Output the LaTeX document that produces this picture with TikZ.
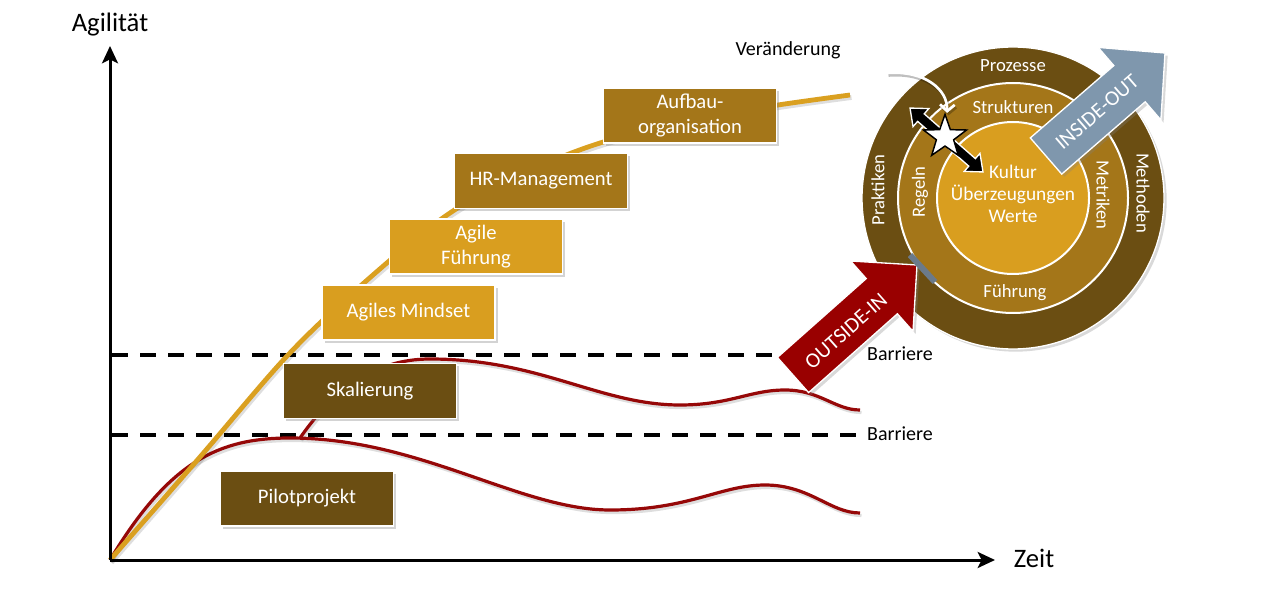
\documentclass[tikz,border=0pt]{standalone}
\usepackage{fontspec}
\setmainfont{Carlito}
\usetikzlibrary{arrows.meta,shadows,shapes.geometric}
\definecolor{dbrown}{HTML}{6B4E12}
\definecolor{mgold}{HTML}{A47619}
\definecolor{lgold}{HTML}{D99E1F}
\definecolor{corange}{HTML}{DAA020}
\definecolor{cred}{HTML}{960808}
\definecolor{ared}{HTML}{990000}
\definecolor{bgrey}{HTML}{7F97AD}
\definecolor{barc}{HTML}{6B7A8A}
\begin{document}
\begin{tikzpicture}[x=0.75pt,y=-0.75pt,
  box/.style={draw=white, line width=1.2pt, text=white, minimum width=129.75pt, minimum height=41.25pt, inner sep=2pt, align=center, font=\fontsize{15.5}{18.5}\selectfont, drop shadow={shadow xshift=2.2pt, shadow yshift=-2.2pt, opacity=0.35}},
  ring/.style={text=white, font=\fontsize{14}{16.5}\selectfont, align=center},
  lbl/.style={text=black, font=\fontsize{15}{18}\selectfont},
  big/.style={text=black, font=\fontsize{20}{24}\selectfont},
  axis/.style={line width=2.25pt, -{Stealth[length=13pt,width=12pt,inset=3pt]}},
  barrierline/.style={line width=3pt, dash pattern=on 12pt off 9pt},
  shline/.style={black, opacity=0.13},
  redcurve/.style={cred, line width=2.4pt},
  bigarrow/.style={draw=white, line width=1pt, drop shadow={shadow xshift=2pt, shadow yshift=-2pt, opacity=0.3}},
  arrowtext/.style={text=white, font=\fontsize{16}{19}\selectfont}
]
\useasboundingbox (0,0) rectangle (1280,598);

% coordinates
\coordinate (O) at (110,560);
\coordinate (Ytop) at (110,46);
\coordinate (Xend) at (995,560);
\coordinate (b1s) at (112,355);
\coordinate (b1e) at (780,355);
\coordinate (b2s) at (112,435);
\coordinate (b2e) at (858,435);

% barrier dashed lines with shadow
\begin{scope}[shift={(2,3)}]
  \draw[barrierline, black, opacity=0.2] (b1s) -- (b1e);
  \draw[barrierline, black, opacity=0.2] (b2s) -- (b2e);
\end{scope}
\draw[barrierline] (b1s) -- (b1e);
\draw[barrierline] (b2s) -- (b2e);

% red curves (shadow + line)
\begin{scope}[shift={(1.5,2.5)}]
  \draw[line width=2.4pt, shline] (110,560) .. controls (170,460) and (220,438) .. (290,438)
    .. controls (420,438) and (520,510) .. (610,510)
    .. controls (690,510) and (720,485) .. (765,485)
    .. controls (810,485) and (830,513) .. (860,513);
  \draw[line width=2.4pt, shline] (300,438) .. controls (330,395) and (370,359) .. (430,359)
    .. controls (540,359) and (600,405) .. (680,405)
    .. controls (730,405) and (750,390) .. (785,390)
    .. controls (820,390) and (835,410) .. (860,410);
\end{scope}
\draw[redcurve] (110,560) .. controls (170,460) and (220,438) .. (290,438)
    .. controls (420,438) and (520,510) .. (610,510)
    .. controls (690,510) and (720,485) .. (765,485)
    .. controls (810,485) and (830,513) .. (860,513);
\draw[redcurve] (300,438) .. controls (330,395) and (370,359) .. (430,359)
    .. controls (540,359) and (600,405) .. (680,405)
    .. controls (730,405) and (750,390) .. (785,390)
    .. controls (820,390) and (835,410) .. (860,410);

% orange curve
\begin{scope}[shift={(1.5,2.5)}]
\draw[line width=3.6pt, shline] plot[smooth, tension=0.55] coordinates {(110,560) (200,457) (288,355) (365,282) (447,215) (520,175) (600,143) (700,118) (778,105) (850,95)};
\end{scope}
\draw[corange, line width=3.6pt] plot[smooth, tension=0.55] coordinates {(110,560) (200,457) (288,355) (365,282) (447,215) (520,175) (600,143) (700,118) (778,105) (850,95)};

% axes
\draw[axis] (O) -- (Ytop);
\draw[axis] (O) -- (Xend);
\node[big] (agil) at (110,25) {Agilität};
\node[big] (zeit) at (1034,558) {Zeit};

% boxes
\node[box, fill=mgold] (aufbau) at (690,115.5) {Aufbau-\\organisation};
\node[box, fill=mgold] (hr) at (541,181) {HR-Management};
\node[box, fill=lgold] (fuehr) at (476,246.5) {Agile\\Führung};
\node[box, fill=lgold] (mind) at (408.5,312.5) {Agiles Mindset};
\node[box, fill=dbrown] (skal) at (370,391) {Skalierung};
\node[box, fill=dbrown] (pilot) at (307,498.5) {Pilotprojekt};

% barrier labels
\node[lbl] (bar1) at (900,354) {Barriere};
\node[lbl] (bar2) at (900,434) {Barriere};
\node[lbl] (ver) at (788,50) {Veränderung};

% circles
\fill[dbrown, draw=white, line width=1pt, drop shadow={shadow xshift=2pt, shadow yshift=-2pt, opacity=0.3}] (1013,198) circle[radius=151];
\fill[mgold, draw=white, line width=1.5pt] (1013,198) circle[radius=115];
\fill[lgold, draw=white, line width=1.5pt] (1013,198) circle[radius=76];

\node[ring] (proz) at (1013,66) {Prozesse};
\node[ring] (strk) at (1013,107) {Strukturen};
\node[ring, rotate=90] (prak) at (878,190) {Praktiken};
\node[ring, rotate=90] (regl) at (920,192) {Regeln};
\node[ring, rotate=-90] (metr) at (1103,195) {Metriken};
\node[ring, rotate=-90] (meth) at (1143,193) {Methoden};
\node[ring] (fhr) at (1015,293) {Führung};
\node[ring, font=\fontsize{14.5}{16.5}\selectfont] (kern) at (1013,194) {Kultur\\Überzeugungen\\Werte};

% OUTSIDE-IN arrow
\filldraw[ared, bigarrow] (777.4,357.4) -- (866.2,278.6) -- (850.6,261.0) -- (917,265) -- (913.0,331.4) -- (897.4,313.8) -- (808.6,392.6) -- cycle;
\node[arrowtext, rotate=41.6] (oin) at (846,331) {OUTSIDE-IN};

% barrier bar at middle ring
\draw[barc, line width=4.5pt] (910,255) -- (935,282);

% INSIDE-OUT arrow
\filldraw[bgrey, bigarrow] (1030.3,137.9) -- (1113.8,65.6) -- (1098.1,47.4) -- (1165,53) -- (1160.9,120) -- (1145.2,101.8) -- (1061.7,174.1) -- cycle;
\node[arrowtext, rotate=40.9] (iout) at (1097,112) {INSIDE-OUT};

% Veraenderung curved arrow
\begin{scope}[shift={(1.5,2.5)}]
\draw[black, opacity=0.25, line width=2pt, -{Straight Barb[length=5pt,width=11pt]}] (887,73) .. controls (925,70) and (948,90) .. (947,113);
\end{scope}
\coordinate (vs) at (887,73);
\coordinate (ve) at (947,113);
\draw[white, line width=2pt, -{Straight Barb[length=5pt,width=11pt]}] (vs) .. controls (925,70) and (948,90) .. (ve);

% double arrow
\begin{scope}[shift={(946.5,140)}, rotate=-41.2]
\filldraw[black, draw=white, line width=1pt] (-48.5,0) -- (-34,12) -- (-34,5) -- (34,5) -- (34,12) -- (48.5,0) -- (34,-12) -- (34,-5) -- (-34,-5) -- (-34,-12) -- cycle;
\end{scope}
\node[star, star points=5, star point ratio=2.5, fill=white, draw=black, line width=1.1pt, minimum size=34pt, inner sep=0pt] (star) at (945,137) {};
\end{tikzpicture}
\end{document}
